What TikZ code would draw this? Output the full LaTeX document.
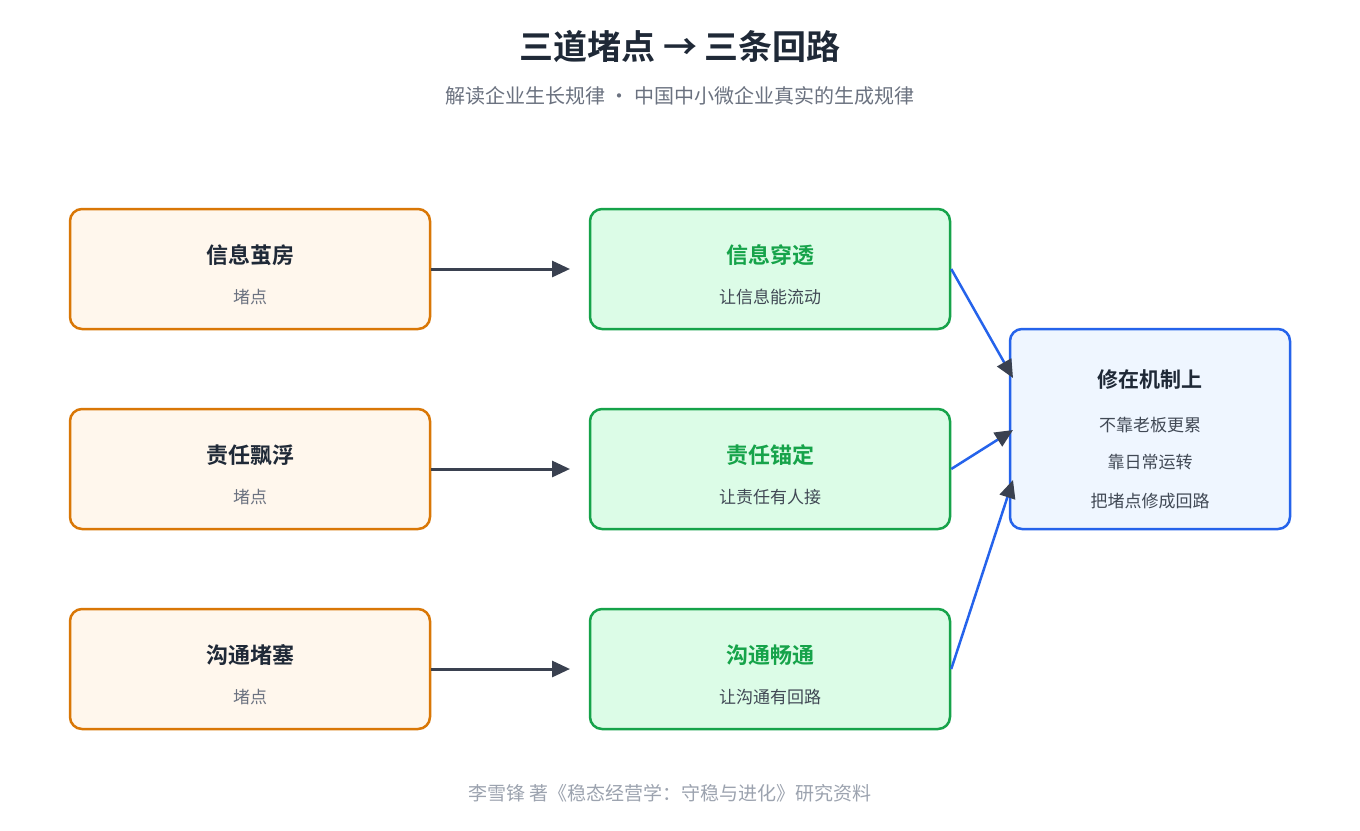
\documentclass[tikz,border=0pt]{standalone}
\usepackage{fontspec}
\setmainfont{Noto Sans CJK SC}[BoldFont={Noto Sans CJK SC Bold}]
\usetikzlibrary{arrows.meta}
\definecolor{ttl}{HTML}{1F2937}
\definecolor{sub}{HTML}{6B7280}
\definecolor{foot}{HTML}{9CA3AF}
\definecolor{ob}{HTML}{D97706}\definecolor{of}{HTML}{FFF7ED}
\definecolor{gb}{HTML}{16A34A}\definecolor{gf}{HTML}{DCFCE7}
\definecolor{bb}{HTML}{2563EB}\definecolor{bf}{HTML}{EFF6FF}
\definecolor{dk}{HTML}{3A4150}
\begin{document}
\begin{tikzpicture}[x=1pt,y=-1pt,
 box/.style={draw,line width=2.5pt,rounded corners=12pt,minimum width=360pt,minimum height=120pt},
 obox/.style={box,draw=ob,fill=of},
 gbox/.style={box,draw=gb,fill=gf},
 bh/.style={font=\fontsize{22}{26}\selectfont\bfseries,text=ttl},
 gh/.style={font=\fontsize{22}{26}\selectfont\bfseries,text=gb},
 st/.style={font=\fontsize{17}{20}\selectfont,text=ttl!85},
 darr/.style={draw=dk,line width=3pt,-{Triangle[length=18pt,width=16pt]}},
 barr/.style={draw=bb,line width=2.5pt,-{Triangle[length=18pt,width=16pt,color=dk,fill=dk]}}]
\useasboundingbox (0,0) rectangle (1360,830);
\fill[white] (0,0) rectangle (1360,830);
\node[font=\fontsize{34}{40}\selectfont\bfseries,text=ttl] (title) at (680,46) {三道堵点 → 三条回路};
\node[font=\fontsize{20}{24}\selectfont,text=sub] (subt) at (680,96) {解读企业生长规律 · 中国中小微企业真实的生成规律};
\foreach \i/\a/\b/\c/\y in {1/信息茧房/信息穿透/让信息能流动/269, 2/责任飘浮/责任锚定/让责任有人接/469, 3/沟通堵塞/沟通畅通/让沟通有回路/669}{
 \node[obox] (l\i) at (250,\y) {};
 \node[bh] (lt\i) at (250,\y-14) {\a};
 \node[st,text=sub] (ls\i) at (250,\y+28) {堵点};
 \node[gbox] (m\i) at (770,\y) {};
 \node[gh] (mt\i) at (770,\y-14) {\b};
 \node[st] (ms\i) at (770,\y+28) {\c};
 \coordinate (e\i) at (570,\y);
 \draw[darr] (l\i.east) -- (e\i);
}
\node[box,draw=bb,fill=bf,minimum width=280pt,minimum height=200pt] (r) at (1150,429) {};
\node[font=\fontsize{21}{25}\selectfont\bfseries,text=ttl] (rt) at (1150,380) {修在机制上};
\node[st] (r1) at (1150,425) {不靠老板更累};
\node[st] (r2) at (1150,462) {靠日常运转};
\node[st] (r3) at (1150,501) {把堵点修成回路};
\coordinate (a1) at (1013,378);
\coordinate (a2) at (1013,430);
\coordinate (a3) at (1013,480);
\draw[barr] (m1.east) -- (a1);
\draw[barr] (m2.east) -- (a2);
\draw[barr] (m3.east) -- (a3);
\node[font=\fontsize{19}{23}\selectfont,text=foot] (ft) at (670,793) {李雪锋 著《稳态经营学：守稳与进化》研究资料};
\end{tikzpicture}
\end{document}
